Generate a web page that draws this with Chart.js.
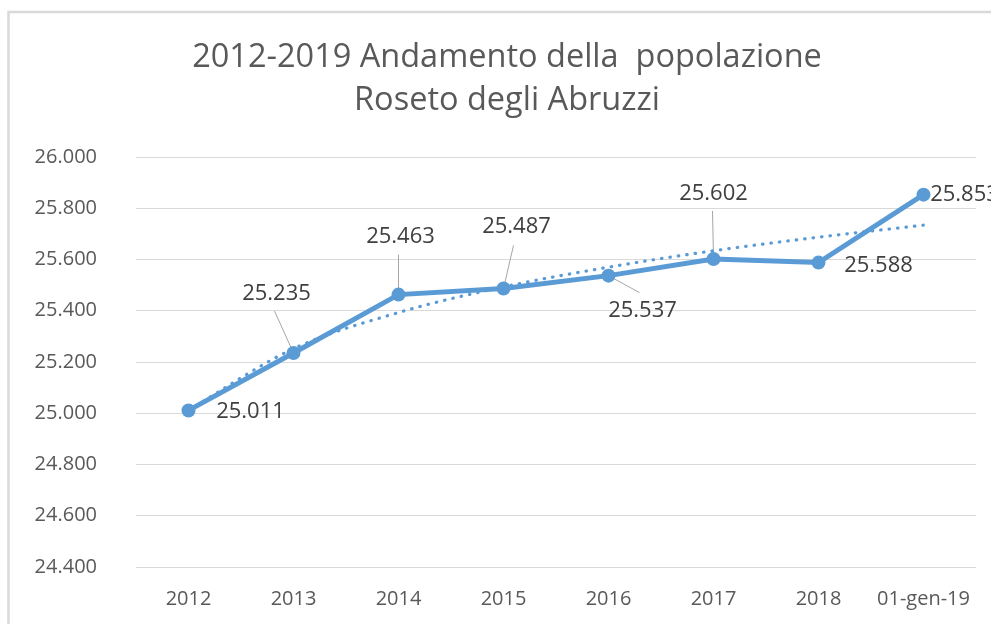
<!DOCTYPE html>
<html><head><meta charset="utf-8">
<script src="https://cdn.jsdelivr.net/npm/chart.js@4"></script>
<style>html,body{margin:0;padding:0;background:#fff;overflow:hidden}#wrap{width:991px;height:624px}</style>
</head><body><div id="wrap"><canvas id="c" width="991" height="624"></canvas></div>
<script>
const categories = ['2012','2013','2014','2015','2016','2017','2018','01-gen-19'];
const population = [25011,25235,25463,25487,25537,25602,25588,25853];
const trendValues = [25012,25252,25393,25493,25570,25634,25687,25734];
const yTickValues = [24400,24600,24800,25000,25200,25400,25600,25800,26000];
const titleLines = ['2012-2019 Andamento della  popolazione','Roseto degli Abruzzi'];
// label placement relative to each point (style only)
const labelOffsets = [[62,1],[-17,-59],[2,-58],[13,-62],[34,35],[0,-65],[60,3],[41,0]];
const leaderEnds = [null,[-19,-42],[0,-40],[10,-43],[31,17],[-1,-48],null,null];

const BLUE = '#5b9bd5';
const FONT = '"Open Sans", "Liberation Sans", sans-serif';

function fmt(v){ return String(Math.round(v)).replace(/\B(?=(\d{3})+(?!\d))/g,'.'); }

const framePlugin = {
  id:'frame',
  beforeDraw(chart){
    const ctx = chart.ctx;
    ctx.save();
    ctx.fillStyle='#fff';
    ctx.fillRect(0,0,chart.width,chart.height);
    ctx.strokeStyle='#d9d9d9';
    ctx.lineWidth=2.5;
    ctx.strokeRect(8.5,12,3000,3000);
    // title
    ctx.fillStyle='#595959';
    ctx.font='32.5px ' + FONT;
    ctx.textAlign='center';
    ctx.textBaseline='middle';
    titleLines.forEach((t,i)=>ctx.fillText(t, 507, 58 + i*43));
    ctx.restore();
  }
};

const labelPlugin = {
  id:'valueLabels',
  beforeDatasetsDraw(chart){
    const meta = chart.getDatasetMeta(1);
    const ctx = chart.ctx;
    ctx.save();
    ctx.strokeStyle='#a6a6a6';
    ctx.lineWidth=1;
    meta.data.forEach((pt,i)=>{
      const le = leaderEnds[i];
      if(!le) return;
      ctx.beginPath();
      ctx.moveTo(pt.x,pt.y);
      ctx.lineTo(pt.x+le[0],pt.y+le[1]);
      ctx.stroke();
    });
    ctx.restore();
  },
  afterDatasetsDraw(chart){
    const meta = chart.getDatasetMeta(1);
    const ctx = chart.ctx;
    ctx.save();
    ctx.font = '22px ' + FONT;
    ctx.fillStyle = '#404040';
    ctx.textAlign = 'center';
    ctx.textBaseline = 'middle';
    meta.data.forEach((pt,i)=>{
      const o = labelOffsets[i];
      ctx.fillText(fmt(population[i]), pt.x+o[0], pt.y+o[1]);
    });
    ctx.restore();
  }
};

new Chart(document.getElementById('c'), {
  type:'line',
  data:{
    labels: categories,
    datasets:[
      {
        label:'Tendenza',
        data: trendValues,
        borderColor: BLUE,
        borderWidth: 3.2,
        borderDash:[0.5,8],
        borderCapStyle:'round',
        pointRadius:0,
        pointHoverRadius:0,
        fill:false,
        cubicInterpolationMode:'monotone'
      },
      {
        label:'Popolazione',
        data: population,
        borderColor: BLUE,
        backgroundColor: BLUE,
        borderWidth: 5,
        pointRadius: 7,
        pointBorderWidth: 0,
        pointBackgroundColor: BLUE,
        pointHoverRadius: 7,
        fill:false,
        tension:0
      }
    ]
  },
  options:{
    responsive:false,
    animation:false,
    devicePixelRatio:1,
    layout:{padding:{left:0,right:15,top:157,bottom:0}},
    plugins:{
      legend:{display:false},
      tooltip:{enabled:false},
      title:{display:false}
    },
    scales:{
      x:{
        offset:true,
        grid:{display:false,drawTicks:false},
        border:{display:false},
        ticks:{color:'#595959',font:{family:FONT,size:20},padding:20,maxRotation:0,autoSkip:false},
        afterFit(s){ s.height = 57; }
      },
      y:{
        min:24400,max:26000,
        afterBuildTicks(s){ s.ticks = yTickValues.map(v=>({value:v})); },
        grid:{color:'#d9d9d9',lineWidth:1,drawTicks:false},
        border:{display:false},
        ticks:{color:'#595959',font:{family:FONT,size:20},padding:39,callback:(v)=>fmt(v)},
        afterFit(s){ s.width = 136; }
      }
    }
  },
  plugins:[framePlugin,labelPlugin]
});
</script>
</body></html>
